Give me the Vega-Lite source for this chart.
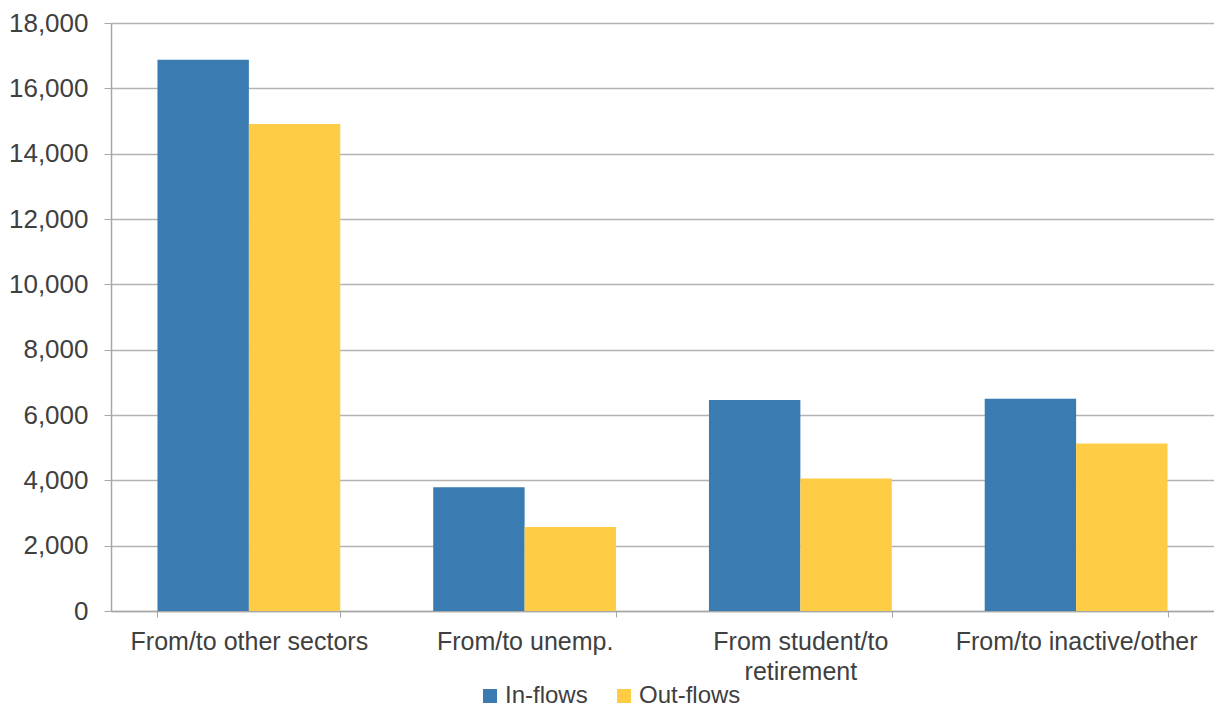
{
  "$schema": "https://vega.github.io/schema/vega-lite/v6.json",
  "width": 1103,
  "height": 588,
  "autosize": {"type": "none"},
  "padding": {"left": 111, "top": 23, "right": 0, "bottom": 98},
  "background": "white",
  "config": {"view": {"stroke": null}, "font": "Liberation Sans"},
  "data": {"values": [
    {"category": "From/to other sectors", "flow": "In-flows", "value": 16875},
    {"category": "From/to other sectors", "flow": "Out-flows", "value": 14905},
    {"category": "From/to unemp.", "flow": "In-flows", "value": 3790},
    {"category": "From/to unemp.", "flow": "Out-flows", "value": 2574},
    {"category": "From student/to retirement", "flow": "In-flows", "value": 6457},
    {"category": "From student/to retirement", "flow": "Out-flows", "value": 4057},
    {"category": "From/to inactive/other", "flow": "In-flows", "value": 6497},
    {"category": "From/to inactive/other", "flow": "Out-flows", "value": 5130}
  ]},
  "mark": {"type": "bar"},
  "encoding": {
    "x": {
      "field": "category", "type": "nominal",
      "sort": ["From/to other sectors", "From/to unemp.", "From student/to retirement", "From/to inactive/other"],
      "scale": {"paddingInner": 0.337, "paddingOuter": 0.1685},
      "axis": {
        "title": null, "labelAngle": 0, "labelFontSize": 25, "labelColor": "#404040",
        "labelPadding": 12, "labelLimit": 0, "tickBand": "extent", "tickSize": 6, "tickColor": "#A6A6A6",
        "domainColor": "#A6A6A6", "domainWidth": 1.5, "grid": false,
        "labelExpr": "datum.label == 'From student/to retirement' ? ['From student/to', 'retirement'] : datum.label",
        "labelLineHeight": 30
      }
    },
    "xOffset": {"field": "flow", "type": "nominal", "sort": ["In-flows", "Out-flows"], "scale": {"paddingInner": 0, "paddingOuter": 0}},
    "y": {
      "field": "value", "type": "quantitative",
      "scale": {"domain": [0, 18000], "nice": false},
      "axis": {
        "title": null, "values": [0, 2000, 4000, 6000, 8000, 10000, 12000, 14000, 16000, 18000],
        "format": ",d", "labelFontSize": 26, "labelColor": "#404040", "labelPadding": 16, "labelLimit": 0,
        "tickSize": 7, "tickColor": "#A6A6A6", "domainColor": "#A6A6A6", "domainWidth": 1.5,
        "gridColor": "#B3B3B3", "gridWidth": 1.5
      }
    },
    "color": {
      "field": "flow", "type": "nominal",
      "scale": {"domain": ["In-flows", "Out-flows"], "range": ["#3A7CB1", "#FECD45"]},
      "legend": {
        "title": null, "orient": "none", "direction": "horizontal",
        "legendX": 367, "legendY": 661, "symbolType": "square", "symbolSize": 196,
        "symbolStrokeWidth": 0, "labelFontSize": 24, "labelColor": "#404040", "labelLimit": 0,
        "labelOffset": 3, "columnPadding": 24
      }
    }
  }
}
